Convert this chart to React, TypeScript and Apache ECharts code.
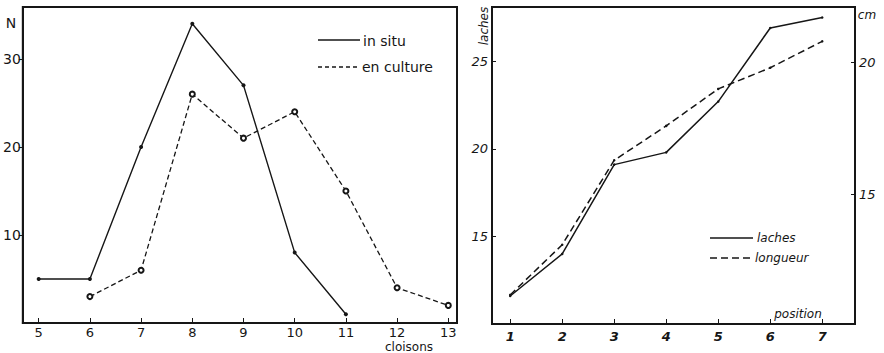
import React, { useEffect, useRef } from "react";
import * as echarts from "echarts";

const cloisons = [5, 6, 7, 8, 9, 10, 11, 12, 13];
const inSitu: (number | null)[] = [5, 5, 20, 34, 27, 8, 1, null, null];
const enCulture: (number | null)[] = [null, 3, 6, 26, 21, 24, 15, 4, 2];
const positions = [1, 2, 3, 4, 5, 6, 7];
const taches = [11.6, 14.0, 19.1, 19.8, 22.7, 26.9, 27.5];
const longueur = [11.2, 13.1, 16.3, 17.6, 19.0, 19.8, 20.8];
const nTicks = [10, 20, 30];
const tachesTicks = [15, 20, 25];
const cmTicks = [15, 20];

const pairs = (xs: number[], ys: (number | null)[]) =>
  xs.map((x, i) => [x, ys[i]]).filter((p) => p[1] !== null);

const INK = "#161616";
const SANS = "'DejaVu Sans', sans-serif";

export default function App() {
  const ref = useRef<HTMLDivElement>(null);
  useEffect(() => {
    document.body.style.margin = "0";
    const chart = echarts.init(ref.current!, undefined, { renderer: "svg" });
    const axisLine = { show: true, lineStyle: { color: INK, width: 2 } };
    const leftLabel = { color: INK, fontFamily: SANS, fontSize: 14 };
    const rightLabel = { color: INK, fontFamily: SANS, fontSize: 13, fontStyle: "italic" as const };
    chart.setOption({
      animation: false,
      backgroundColor: "#fff",
      grid: [
        { left: 22, top: 7, width: 435, height: 316, show: true, borderColor: INK, borderWidth: 2 },
        { left: 492, top: 7, width: 363, height: 317, show: true, borderColor: INK, borderWidth: 2 },
      ],
      xAxis: [
        {
          type: "value", gridIndex: 0, min: 4.69, max: 13.17,
          axisLine, splitLine: { show: false },
          axisTick: { show: true, inside: true, length: 5, customValues: cloisons, lineStyle: { color: INK } },
          axisLabel: { ...leftLabel, fontSize: 13, lineHeight: 13, margin: 3, customValues: cloisons },
        },
        {
          type: "value", gridIndex: 1, min: 0.65, max: 7.63,
          axisLine, splitLine: { show: false },
          axisTick: { show: true, inside: true, length: 5, customValues: positions, lineStyle: { color: INK } },
          axisLabel: { ...rightLabel, fontWeight: "bold", margin: 6, customValues: positions },
        },
      ],
      yAxis: [
        {
          type: "value", gridIndex: 0, min: 0, max: 35.9,
          axisLine, splitLine: { show: false },
          axisTick: { show: true, length: 4, customValues: nTicks, lineStyle: { color: INK } },
          axisLabel: { ...leftLabel, margin: 2, customValues: nTicks },
        },
        {
          type: "value", gridIndex: 1, min: 10, max: 28.1,
          axisLine, splitLine: { show: false },
          axisTick: { show: true, inside: true, length: 4, customValues: tachesTicks, lineStyle: { color: INK } },
          axisLabel: { ...rightLabel, margin: 4, customValues: tachesTicks },
        },
        {
          type: "value", gridIndex: 1, position: "right", min: 10.1, max: 22.1,
          axisLine, splitLine: { show: false },
          axisTick: { show: true, inside: true, length: 4, customValues: cmTicks, lineStyle: { color: INK } },
          axisLabel: { ...rightLabel, margin: 4, customValues: cmTicks },
        },
      ],
      series: [
        {
          name: "in situ", type: "line", xAxisIndex: 0, yAxisIndex: 0,
          data: pairs(cloisons, inSitu),
          symbol: "circle", symbolSize: 4,
          lineStyle: { color: INK, width: 1.4 }, itemStyle: { color: INK },
        },
        {
          name: "en culture", type: "line", xAxisIndex: 0, yAxisIndex: 0,
          data: pairs(cloisons, enCulture),
          symbol: "emptyCircle", symbolSize: 5,
          lineStyle: { color: INK, width: 1.3, type: [5, 3] },
          itemStyle: { color: INK, borderColor: INK, borderWidth: 1 },
        },
        {
          name: "taches", type: "line", xAxisIndex: 1, yAxisIndex: 1,
          data: pairs(positions, taches),
          symbol: "circle", symbolSize: 2.5,
          lineStyle: { color: INK, width: 1.5 }, itemStyle: { color: INK },
        },
        {
          name: "longueur", type: "line", xAxisIndex: 1, yAxisIndex: 2,
          data: pairs(positions, longueur),
          symbol: "circle", symbolSize: 2.5,
          lineStyle: { color: INK, width: 1.5, type: [7, 4] }, itemStyle: { color: INK },
        },
      ],
      graphic: [
        { type: "text", x: 11, y: 23, style: { text: "N", font: `14px ${SANS}`, fill: INK, align: "center", verticalAlign: "middle" } },
        { type: "line", shape: { x1: 318, y1: 40, x2: 360, y2: 40 }, style: { stroke: INK, lineWidth: 1.3 } },
        { type: "text", x: 363, y: 41, style: { text: "in situ", font: `14px ${SANS}`, fill: INK, align: "left", verticalAlign: "middle" } },
        { type: "line", shape: { x1: 318, y1: 67, x2: 360, y2: 67 }, style: { stroke: INK, lineWidth: 1.3, lineDash: [4, 3] } },
        { type: "text", x: 362, y: 67, style: { text: "en culture", font: `14px ${SANS}`, fill: INK, align: "left", verticalAlign: "middle" } },
        { type: "text", x: 409, y: 346.5, style: { text: "cloisons", font: `12px ${SANS}`, fill: INK, align: "center", verticalAlign: "middle" } },
        { type: "text", x: 484, y: 26, rotation: Math.PI / 2, style: { text: "laches", font: `italic 12px ${SANS}`, fill: INK, align: "center", verticalAlign: "middle" } },
        { type: "text", x: 867, y: 15, style: { text: "cm", font: `italic 12px ${SANS}`, fill: INK, align: "center", verticalAlign: "middle" } },
        { type: "text", x: 798, y: 314, style: { text: "position", font: `italic 12px ${SANS}`, fill: INK, align: "center", verticalAlign: "middle" } },
        { type: "line", shape: { x1: 710, y1: 238, x2: 753, y2: 238 }, style: { stroke: INK, lineWidth: 1.4 } },
        { type: "text", x: 757, y: 238, style: { text: "laches", font: `italic 12px ${SANS}`, fill: INK, align: "left", verticalAlign: "middle" } },
        { type: "line", shape: { x1: 710, y1: 258, x2: 752, y2: 258 }, style: { stroke: INK, lineWidth: 1.4, lineDash: [7, 4] } },
        { type: "text", x: 755, y: 258, style: { text: "longueur", font: `italic 12px ${SANS}`, fill: INK, align: "left", verticalAlign: "middle" } },
      ],
    });
    return () => chart.dispose();
  }, []);
  return <div ref={ref} style={{ width: 884, height: 353 }} />;
}
